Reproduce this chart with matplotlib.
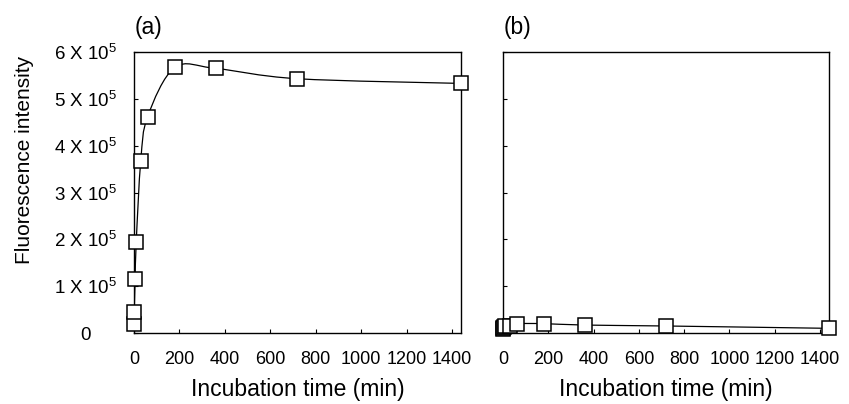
import matplotlib
matplotlib.use("Agg")
import matplotlib.pyplot as plt
import numpy as np
from matplotlib.path import Path
from matplotlib.patches import PathPatch

plt.rcParams["font.family"] = ["Liberation Sans", "DejaVu Sans"]
plt.rcParams["mathtext.fontset"] = "custom"
plt.rcParams["mathtext.rm"] = "Liberation Sans"
plt.rcParams["mathtext.default"] = "regular"

# incubation time (min)
time_min = [0, 1, 5, 10, 30, 60, 180, 360, 720, 1440]
# fluorescence intensity, panel (a) and panel (b)
intensity_a = [2.0e4, 4.5e4, 1.15e5, 1.95e5, 3.68e5, 4.62e5, 5.67e5, 5.65e5, 5.43e5, 5.33e5]
intensity_b = [0.8e4, 1.0e4, 1.2e4, 1.4e4, 1.6e4, 2.0e4, 2.0e4, 1.7e4, 1.5e4, 1.0e4]

x_ticks = [0, 200, 400, 600, 800, 1000, 1200, 1400]
y_ticks = [0, 1e5, 2e5, 3e5, 4e5, 5e5, 6e5]
y_tick_labels = ["0"] + [f"{k} X 10$^{{5}}$" for k in range(1, 7)]
panel_labels = ["(a)", "(b)"]


def smooth_path(x, y):
    """Excel-like smoothed line: cubic Bezier segments through the points."""
    p = np.column_stack([x, y]).astype(float)
    n = len(p)
    verts = [p[0]]
    codes = [Path.MOVETO]
    for i in range(n - 1):
        p_prev = p[i - 1] if i > 0 else p[i]
        p_next2 = p[i + 2] if i + 2 < n else p[i + 1]
        c1 = p[i] + (p[i + 1] - p_prev) / 6
        c2 = p[i + 1] - (p_next2 - p[i]) / 6
        verts += [c1, c2, p[i + 1]]
        codes += [Path.CURVE4] * 3
    return Path(verts, codes)


fig = plt.figure(figsize=(8.49, 4.04), dpi=100)
ax_a = fig.add_axes([0.1578, 0.1757, 0.3852, 0.6955])
ax_b = fig.add_axes([0.5925, 0.1757, 0.3840, 0.6955])

for ax, y, label in zip([ax_a, ax_b], [intensity_a, intensity_b], panel_labels):
    ax.add_patch(PathPatch(smooth_path(time_min, y), fill=False,
                           edgecolor="black", linewidth=0.9, zorder=2))
    ax.plot(time_min, y, linestyle="none", marker="s", markersize=10,
            markerfacecolor="white", markeredgecolor="black",
            markeredgewidth=1.1, clip_on=False, zorder=3)
    ax.set_xlim(0, 1440)
    ax.set_ylim(0, 6e5)
    ax.set_xticks(x_ticks)
    ax.set_yticks(y_ticks)
    ax.tick_params(direction="in", length=3, width=0.8, labelsize=13)
    ax.tick_params(axis="x", pad=13)
    for s in ax.spines.values():
        s.set_linewidth(1.0)
    ax.set_xlabel("Incubation time (min)", fontsize=16.5, labelpad=7)
    ax.text(0.003, 1.045, label, transform=ax.transAxes, fontsize=16.5,
            ha="left", va="bottom")

ax_a.set_yticklabels(y_tick_labels)
ax_a.tick_params(axis="y", pad=35, labelsize=13.5)
for t in ax_a.get_yticklabels():
    t.set_horizontalalignment("center")
ax_a.set_ylabel("Fluorescence intensity", fontsize=15, labelpad=14)
ax_a.yaxis.label.set_y(0.615)
ax_b.set_yticklabels([])

fig.savefig("out.png", dpi=100)
